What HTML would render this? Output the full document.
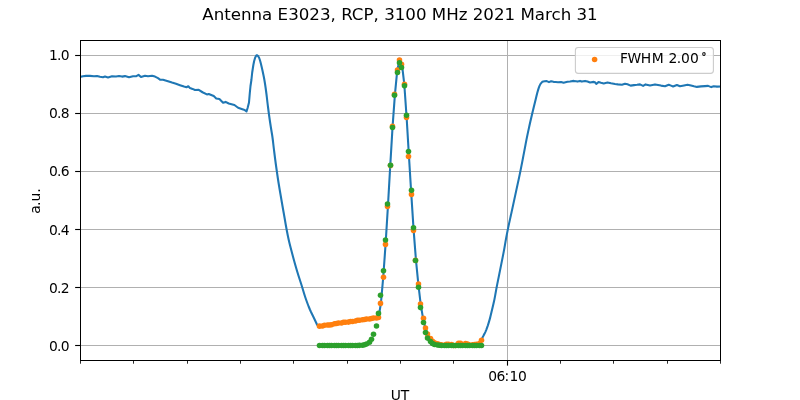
<!DOCTYPE html>
<html><head><meta charset="utf-8"><title>Antenna E3023</title>
<style>
html,body{margin:0;padding:0;background:#fff;}
body{width:800px;height:400px;overflow:hidden;}
svg{display:block;}
svg text{font-family:"DejaVu Sans","Liberation Sans",sans-serif;fill:#000;}
</style></head><body>
<svg width="800" height="400" viewBox="0 0 800 400">
<rect x="0" y="0" width="800" height="400" fill="#fff"/>
<text x="400" y="20" text-anchor="middle" font-size="16.67">Antenna E3023, RCP, 3100 MHz 2021 March 31</text>
<g stroke="#b0b0b0" stroke-width="1.11" shape-rendering="crispEdges"><line x1="81" x2="720" y1="55.5" y2="55.5"/><line x1="81" x2="720" y1="113.5" y2="113.5"/><line x1="81" x2="720" y1="171.5" y2="171.5"/><line x1="81" x2="720" y1="229.5" y2="229.5"/><line x1="81" x2="720" y1="287.5" y2="287.5"/><line x1="81" x2="720" y1="345.5" y2="345.5"/><line x1="507.5" x2="507.5" y1="41" y2="360"/></g>
<g fill="#000"><rect x="75.14" y="54.945" width="4.86" height="1.11"/><rect x="75.14" y="112.945" width="4.86" height="1.11"/><rect x="75.14" y="170.945" width="4.86" height="1.11"/><rect x="75.14" y="228.945" width="4.86" height="1.11"/><rect x="75.14" y="286.945" width="4.86" height="1.11"/><rect x="75.14" y="344.945" width="4.86" height="1.11"/><rect x="80.085" y="360" width="0.83" height="3.7"/><rect x="133.085" y="360" width="0.83" height="3.7"/><rect x="187.085" y="360" width="0.83" height="3.7"/><rect x="240.085" y="360" width="0.83" height="3.7"/><rect x="293.085" y="360" width="0.83" height="3.7"/><rect x="347.085" y="360" width="0.83" height="3.7"/><rect x="400.085" y="360" width="0.83" height="3.7"/><rect x="453.085" y="360" width="0.83" height="3.7"/><rect x="560.085" y="360" width="0.83" height="3.7"/><rect x="613.085" y="360" width="0.83" height="3.7"/><rect x="667.085" y="360" width="0.83" height="3.7"/><rect x="720.085" y="360" width="0.83" height="3.7"/><rect x="506.945" y="360" width="1.11" height="5.6"/></g>
<clipPath id="ax"><rect x="80" y="40" width="641" height="321"/></clipPath>
<g clip-path="url(#ax)">
<polyline fill="none" stroke="#1f77b4" stroke-width="2.08" stroke-linejoin="round" stroke-linecap="square" points="80.00,76.90 83.00,76.30 86.00,75.90 90.00,75.90 94.00,76.20 97.00,76.00 100.00,76.80 103.00,77.30 105.00,76.60 108.00,77.50 112.00,76.20 116.00,76.50 119.00,76.00 122.00,76.60 125.00,76.10 129.00,77.20 133.00,76.20 136.00,76.30 138.50,74.90 141.00,77.00 145.00,75.80 148.00,76.30 152.00,75.80 155.00,76.60 158.00,78.20 160.00,79.60 163.00,79.80 168.00,81.30 172.00,82.60 176.00,83.80 180.00,85.20 184.00,86.60 186.50,87.20 188.30,86.30 190.00,88.10 192.50,88.90 195.00,90.00 198.75,89.90 202.50,92.25 206.90,94.40 208.75,94.00 213.75,96.00 216.25,98.40 219.40,99.10 223.10,102.75 225.60,101.90 228.75,103.50 234.40,105.00 238.10,107.75 243.10,109.40 245.00,110.30 246.50,111.50 247.60,108.00 249.00,102.50 249.80,93.00 250.50,86.00 251.40,80.00 252.20,72.50 253.35,65.00 254.10,61.25 255.20,57.50 256.20,55.70 256.90,55.20 257.70,55.60 259.00,57.50 259.71,59.50 260.32,61.50 260.84,63.50 261.32,65.50 261.79,67.50 262.25,69.50 262.69,71.50 263.11,73.50 263.53,75.50 263.94,77.50 264.31,79.50 264.65,81.50 264.97,83.50 265.28,85.50 265.57,87.50 265.85,89.50 266.12,91.50 266.38,93.50 266.63,95.50 266.87,97.50 267.10,99.50 267.33,101.50 267.57,103.50 267.81,105.50 268.07,107.50 268.32,109.50 268.58,111.50 268.85,113.50 269.12,115.50 269.40,117.50 269.69,119.50 269.98,121.50 270.28,123.50 270.59,125.50 270.90,127.50 271.22,129.50 271.55,131.50 271.89,133.50 272.21,135.50 272.50,137.50 272.76,139.50 273.01,141.50 273.24,143.50 273.47,145.50 273.70,147.50 273.94,149.50 274.19,151.50 274.44,153.50 274.69,155.50 274.94,157.50 275.20,159.50 275.47,161.50 275.73,163.50 276.01,165.50 276.29,167.50 276.57,169.50 276.86,171.50 277.15,173.50 277.44,175.50 277.73,177.50 278.03,179.50 278.34,181.50 278.66,183.50 278.99,185.50 279.32,187.50 279.66,189.50 280.00,191.50 280.34,193.50 280.69,195.50 281.03,197.50 281.37,199.50 281.71,201.50 282.06,203.50 282.40,205.50 282.75,207.50 283.10,209.50 283.45,211.50 283.81,213.50 284.16,215.50 284.51,217.50 284.86,219.50 285.20,221.50 285.54,223.50 285.89,225.50 286.25,227.50 286.62,229.50 287.00,231.50 287.39,233.50 287.79,235.50 288.21,237.50 288.64,239.50 289.09,241.50 289.57,243.50 290.07,245.50 290.59,247.50 291.11,249.50 291.64,251.50 292.16,253.50 292.69,255.50 293.23,257.50 293.77,259.50 294.32,261.50 294.88,263.50 295.45,265.50 296.02,267.50 296.60,269.50 297.20,271.50 297.81,273.50 298.43,275.50 299.08,277.50 299.73,279.50 300.38,281.50 301.02,283.50 301.66,285.50 302.27,287.50 302.88,289.50 303.48,291.50 304.08,293.50 304.71,295.50 305.36,297.50 306.05,299.50 306.76,301.50 307.50,303.50 308.26,305.50 309.06,307.50 309.89,309.50 310.78,311.50 311.74,313.50 312.73,315.50 313.70,317.50 314.65,319.50 315.59,321.50 316.52,323.50 317.10,324.75 318.40,326.00 319.60,326.14 322.39,325.92 324.73,325.25 327.07,325.08 329.41,325.05 331.75,324.71 334.09,323.75 336.43,323.47 338.77,323.01 341.11,322.98 343.45,322.31 345.79,322.31 348.13,322.12 350.47,321.48 352.81,321.46 355.15,321.05 357.49,320.25 359.83,320.34 362.17,319.76 364.51,319.54 366.85,319.09 369.19,319.08 371.53,318.54 373.87,317.97 376.21,318.00 378.55,317.50 380.89,303.40 383.23,277.25 385.57,244.40 387.91,206.50 390.25,165.60 392.59,126.40 394.93,94.40 397.27,70.10 399.61,60.10 401.95,64.30 404.29,84.20 406.63,117.50 408.97,156.50 411.31,194.40 413.65,230.40 415.99,260.40 418.33,284.00 420.67,304.10 423.01,318.20 425.35,328.10 427.69,334.00 430.03,338.60 432.37,341.20 434.71,342.80 437.05,343.80 439.39,344.60 441.73,344.78 444.07,345.20 446.41,344.35 448.75,344.20 451.09,344.50 453.43,345.49 455.77,345.56 458.11,343.40 460.45,343.40 462.79,345.32 465.13,343.50 467.47,343.97 469.81,344.98 472.15,344.80 474.49,344.45 476.83,344.21 479.17,343.60 481.51,340.30 482.50,337.50 483.44,335.85 484.47,333.85 485.42,331.85 486.26,329.85 487.00,327.85 487.70,325.85 488.35,323.85 488.96,321.85 489.54,319.85 490.09,317.85 490.60,315.85 491.08,313.85 491.56,311.85 492.04,309.85 492.52,307.85 492.99,305.85 493.46,303.85 493.91,301.85 494.33,299.85 494.72,297.85 495.10,295.85 495.45,293.85 495.81,291.85 496.16,289.85 496.53,287.85 496.92,285.85 497.31,283.85 497.72,281.85 498.12,279.85 498.53,277.85 498.93,275.85 499.33,273.85 499.73,271.85 500.13,269.85 500.53,267.85 500.93,265.85 501.33,263.85 501.73,261.85 502.13,259.85 502.53,257.85 502.92,255.85 503.32,253.85 503.70,251.85 504.08,249.85 504.44,247.85 504.79,245.85 505.13,243.85 505.47,241.85 505.82,239.85 506.18,237.85 506.56,235.85 506.95,233.85 507.35,231.85 507.75,229.85 508.16,227.85 508.57,225.85 508.99,223.85 509.43,221.85 509.87,219.85 510.31,217.85 510.76,215.85 511.20,213.85 511.64,211.85 512.08,209.85 512.51,207.85 512.94,205.85 513.37,203.85 513.80,201.85 514.23,199.85 514.66,197.85 515.10,195.85 515.53,193.85 515.96,191.85 516.39,189.85 516.82,187.85 517.26,185.85 517.69,183.85 518.13,181.85 518.57,179.85 519.00,177.85 519.42,175.85 519.84,173.85 520.25,171.85 520.65,169.85 521.05,167.85 521.44,165.85 521.84,163.85 522.23,161.85 522.62,159.85 523.00,157.85 523.38,155.85 523.76,153.85 524.15,151.85 524.53,149.85 524.91,147.85 525.29,145.85 525.66,143.85 526.04,141.85 526.43,139.85 526.83,137.85 527.24,135.85 527.66,133.85 528.09,131.85 528.52,129.85 528.96,127.85 529.41,125.85 529.86,123.85 530.31,121.85 530.77,119.85 531.24,117.85 531.71,115.85 532.18,113.85 532.65,111.85 533.14,109.85 533.62,107.85 534.11,105.85 534.60,103.85 535.10,101.85 535.59,99.85 536.07,97.85 536.54,95.85 537.04,93.85 537.58,91.85 538.14,89.85 538.76,87.85 539.51,85.85 540.53,83.85 542.25,81.85 544.50,81.25 546.75,81.10 549.00,82.15 551.10,81.25 553.50,81.85 555.80,82.00 558.00,82.20 561.00,82.00 563.60,82.75 565.50,82.30 567.50,81.80 570.00,81.50 573.75,80.90 576.00,81.30 577.50,81.60 580.00,80.90 581.90,81.60 585.00,80.90 587.50,81.60 590.00,82.50 593.75,81.90 595.00,82.30 596.25,84.00 598.50,82.10 601.00,82.80 603.75,83.40 607.50,82.50 611.00,83.30 615.00,84.00 618.00,84.40 621.90,84.75 625.00,83.75 627.50,84.30 630.60,85.60 634.00,85.10 637.00,84.80 640.00,84.40 643.10,85.90 645.60,84.40 650.00,85.40 655.00,84.40 658.00,85.00 661.00,85.60 665.00,86.25 668.75,84.75 671.00,85.60 673.10,86.50 676.90,85.00 680.00,86.25 684.00,85.40 687.50,84.75 691.00,85.60 694.00,86.30 696.90,86.90 701.00,86.40 705.00,86.10 708.10,85.90 711.25,87.10 713.75,86.25 717.00,86.60 720.00,86.50"/>
<g fill="#ff7f0e"><circle cx="319.5" cy="326.14" r="2.78"/><circle cx="322.5" cy="325.92" r="2.78"/><circle cx="324.5" cy="325.25" r="2.78"/><circle cx="327.5" cy="325.08" r="2.78"/><circle cx="329.5" cy="325.05" r="2.78"/><circle cx="331.5" cy="324.71" r="2.78"/><circle cx="334.5" cy="323.75" r="2.78"/><circle cx="336.5" cy="323.47" r="2.78"/><circle cx="338.5" cy="323.01" r="2.78"/><circle cx="341.5" cy="322.98" r="2.78"/><circle cx="343.5" cy="322.31" r="2.78"/><circle cx="345.5" cy="322.31" r="2.78"/><circle cx="348.5" cy="322.12" r="2.78"/><circle cx="350.5" cy="321.48" r="2.78"/><circle cx="352.5" cy="321.46" r="2.78"/><circle cx="355.5" cy="321.05" r="2.78"/><circle cx="357.5" cy="320.25" r="2.78"/><circle cx="359.5" cy="320.34" r="2.78"/><circle cx="362.5" cy="319.76" r="2.78"/><circle cx="364.5" cy="319.54" r="2.78"/><circle cx="366.5" cy="319.09" r="2.78"/><circle cx="369.5" cy="319.08" r="2.78"/><circle cx="371.5" cy="318.54" r="2.78"/><circle cx="373.5" cy="317.97" r="2.78"/><circle cx="376.5" cy="318.00" r="2.78"/><circle cx="378.5" cy="317.50" r="2.78"/><circle cx="380.5" cy="303.40" r="2.78"/><circle cx="383.5" cy="277.25" r="2.78"/><circle cx="385.5" cy="244.40" r="2.78"/><circle cx="387.5" cy="206.50" r="2.78"/><circle cx="390.5" cy="165.60" r="2.78"/><circle cx="392.5" cy="126.40" r="2.78"/><circle cx="394.5" cy="94.40" r="2.78"/><circle cx="397.5" cy="70.10" r="2.78"/><circle cx="399.5" cy="60.10" r="2.78"/><circle cx="401.5" cy="64.30" r="2.78"/><circle cx="404.5" cy="84.20" r="2.78"/><circle cx="406.5" cy="117.50" r="2.78"/><circle cx="408.5" cy="156.50" r="2.78"/><circle cx="411.5" cy="194.40" r="2.78"/><circle cx="413.5" cy="230.40" r="2.78"/><circle cx="415.5" cy="260.40" r="2.78"/><circle cx="418.5" cy="284.00" r="2.78"/><circle cx="420.5" cy="304.10" r="2.78"/><circle cx="423.5" cy="318.20" r="2.78"/><circle cx="425.5" cy="328.10" r="2.78"/><circle cx="427.5" cy="334.00" r="2.78"/><circle cx="430.5" cy="338.60" r="2.78"/><circle cx="432.5" cy="341.20" r="2.78"/><circle cx="434.5" cy="342.80" r="2.78"/><circle cx="437.5" cy="343.80" r="2.78"/><circle cx="439.5" cy="344.60" r="2.78"/><circle cx="441.5" cy="344.78" r="2.78"/><circle cx="444.5" cy="345.20" r="2.78"/><circle cx="446.5" cy="344.35" r="2.78"/><circle cx="448.5" cy="344.20" r="2.78"/><circle cx="451.5" cy="344.50" r="2.78"/><circle cx="453.5" cy="345.49" r="2.78"/><circle cx="455.5" cy="345.56" r="2.78"/><circle cx="458.5" cy="343.40" r="2.78"/><circle cx="460.5" cy="343.40" r="2.78"/><circle cx="462.5" cy="345.32" r="2.78"/><circle cx="465.5" cy="343.50" r="2.78"/><circle cx="467.5" cy="343.97" r="2.78"/><circle cx="469.5" cy="344.98" r="2.78"/><circle cx="472.5" cy="344.80" r="2.78"/><circle cx="474.5" cy="344.45" r="2.78"/><circle cx="476.5" cy="344.21" r="2.78"/><circle cx="479.5" cy="343.60" r="2.78"/><circle cx="481.5" cy="340.30" r="2.78"/></g>
<g fill="#2ca02c"><circle cx="319.5" cy="345.50" r="2.78"/><circle cx="322.5" cy="345.50" r="2.78"/><circle cx="324.5" cy="345.50" r="2.78"/><circle cx="327.5" cy="345.50" r="2.78"/><circle cx="329.5" cy="345.50" r="2.78"/><circle cx="331.5" cy="345.50" r="2.78"/><circle cx="334.5" cy="345.50" r="2.78"/><circle cx="336.5" cy="345.50" r="2.78"/><circle cx="338.5" cy="345.50" r="2.78"/><circle cx="341.5" cy="345.50" r="2.78"/><circle cx="343.5" cy="345.50" r="2.78"/><circle cx="345.5" cy="345.50" r="2.78"/><circle cx="348.5" cy="345.50" r="2.78"/><circle cx="350.5" cy="345.50" r="2.78"/><circle cx="352.5" cy="345.49" r="2.78"/><circle cx="355.5" cy="345.48" r="2.78"/><circle cx="357.5" cy="345.44" r="2.78"/><circle cx="359.5" cy="345.36" r="2.78"/><circle cx="362.5" cy="345.17" r="2.78"/><circle cx="364.5" cy="344.76" r="2.78"/><circle cx="366.5" cy="343.93" r="2.78"/><circle cx="369.5" cy="342.31" r="2.78"/><circle cx="371.5" cy="339.36" r="2.78"/><circle cx="373.5" cy="334.28" r="2.78"/><circle cx="376.5" cy="326.02" r="2.78"/><circle cx="378.5" cy="313.38" r="2.78"/><circle cx="380.5" cy="295.21" r="2.78"/><circle cx="383.5" cy="270.72" r="2.78"/><circle cx="385.5" cy="239.92" r="2.78"/><circle cx="387.5" cy="203.93" r="2.78"/><circle cx="390.5" cy="165.24" r="2.78"/><circle cx="392.5" cy="127.53" r="2.78"/><circle cx="394.5" cy="95.19" r="2.78"/><circle cx="397.5" cy="72.54" r="2.78"/><circle cx="399.5" cy="62.82" r="2.78"/><circle cx="401.5" cy="67.49" r="2.78"/><circle cx="404.5" cy="85.86" r="2.78"/><circle cx="406.5" cy="115.22" r="2.78"/><circle cx="408.5" cy="151.55" r="2.78"/><circle cx="411.5" cy="190.37" r="2.78"/><circle cx="413.5" cy="227.66" r="2.78"/><circle cx="415.5" cy="260.50" r="2.78"/><circle cx="418.5" cy="287.28" r="2.78"/><circle cx="420.5" cy="307.62" r="2.78"/><circle cx="423.5" cy="322.50" r="2.78"/><circle cx="425.5" cy="332.50" r="2.78"/><circle cx="427.5" cy="338.10" r="2.78"/><circle cx="430.5" cy="341.60" r="2.78"/><circle cx="432.5" cy="343.50" r="2.78"/><circle cx="434.5" cy="344.53" r="2.78"/><circle cx="437.5" cy="345.06" r="2.78"/><circle cx="439.5" cy="345.31" r="2.78"/><circle cx="441.5" cy="345.42" r="2.78"/><circle cx="444.5" cy="345.47" r="2.78"/><circle cx="446.5" cy="345.49" r="2.78"/><circle cx="448.5" cy="345.50" r="2.78"/><circle cx="451.5" cy="345.50" r="2.78"/><circle cx="453.5" cy="345.50" r="2.78"/><circle cx="455.5" cy="345.50" r="2.78"/><circle cx="458.5" cy="345.50" r="2.78"/><circle cx="460.5" cy="345.50" r="2.78"/><circle cx="462.5" cy="345.50" r="2.78"/><circle cx="465.5" cy="345.50" r="2.78"/><circle cx="467.5" cy="345.50" r="2.78"/><circle cx="469.5" cy="345.50" r="2.78"/><circle cx="472.5" cy="345.50" r="2.78"/><circle cx="474.5" cy="345.50" r="2.78"/><circle cx="476.5" cy="345.50" r="2.78"/><circle cx="479.5" cy="345.50" r="2.78"/><circle cx="481.5" cy="345.50" r="2.78"/></g>
</g>
<rect x="80.5" y="40.5" width="640" height="320" fill="none" stroke="#000" stroke-width="1.11" shape-rendering="crispEdges"/>
<g font-size="13.89"><text x="49.1 57.06 60.75" y="59.5">1.0</text><text x="49.1 57.06 60.75" y="117.5">0.8</text><text x="49.1 57.06 60.75" y="175.5">0.6</text><text x="49.1 57.06 60.75" y="234.5">0.4</text><text x="49.1 57.06 60.75" y="292.5">0.2</text><text x="49.1 57.06 60.75" y="350.5">0.0</text>
<text x="488.2 496.6 504.5 509.5 518.0" y="381.3">06:10</text>
<text x="400" y="400.2" text-anchor="middle">UT</text>
<text transform="translate(40,200.8) rotate(-90)" x="-13.07 -5.2 -0.6 8.05">a.u.</text>
</g>
<rect x="575.4" y="47.55" width="138" height="25.85" rx="2.8" ry="2.8" fill="#fff" fill-opacity="0.8" stroke="#cccccc" stroke-width="1.11"/>
<circle cx="594.6" cy="59.5" r="2.78" fill="#ff7f0e"/>
<text x="619.9 627.5 640.85 651.85 664.2 668.4 676.7 681.1 689.9" y="63.4" font-size="13.89">FWHM 2.00</text><text x="701.45" y="59.8" font-size="9.7" stroke="#000" stroke-width="0.3">°</text>
</svg>
</body></html>
